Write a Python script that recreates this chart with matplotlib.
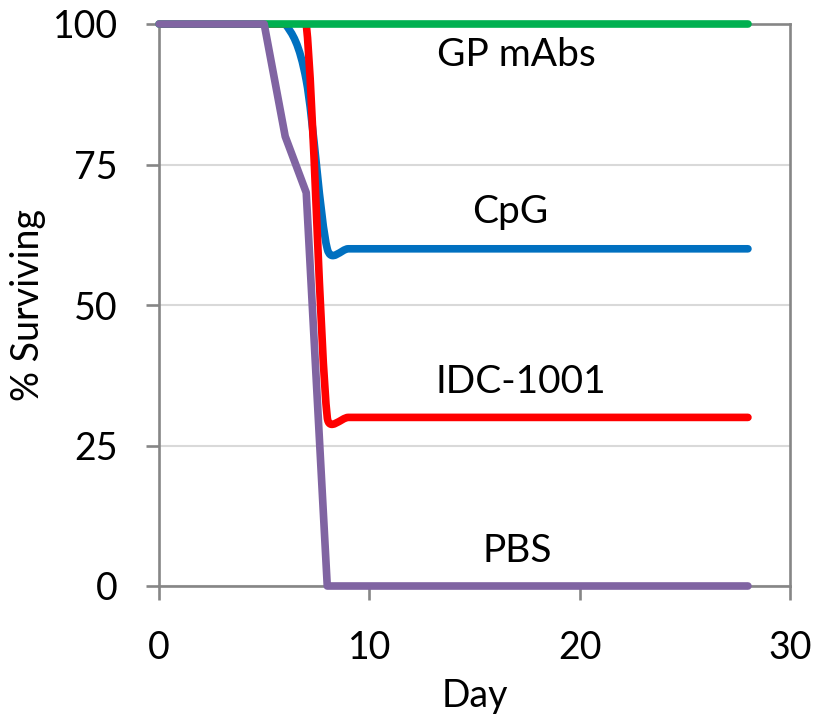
import numpy as np
import matplotlib
matplotlib.use("Agg")
import matplotlib.pyplot as plt
from matplotlib.path import Path
from matplotlib.patches import PathPatch

plt.rcParams['font.family'] = ['Lato', 'DejaVu Sans']

# survival data (day 0..28)
days = [0, 1, 2, 3, 4, 5, 6, 7, 8, 9, 10, 11, 12, 13, 14, 15, 16, 17, 18, 19,
        20, 21, 22, 23, 24, 25, 26, 27, 28]
gp_mabs = [100, 100, 100, 100, 100, 100, 100, 100, 100, 100, 100, 100, 100, 100, 100,
           100, 100, 100, 100, 100, 100, 100, 100, 100, 100, 100, 100, 100, 100]
cpg = [100, 100, 100, 100, 100, 100, 100, 90, 60, 60, 60, 60, 60, 60, 60,
       60, 60, 60, 60, 60, 60, 60, 60, 60, 60, 60, 60, 60, 60]
idc_1001 = [100, 100, 100, 100, 100, 100, 100, 100, 30, 30, 30, 30, 30, 30, 30,
            30, 30, 30, 30, 30, 30, 30, 30, 30, 30, 30, 30, 30, 30]
pbs = [100, 100, 100, 100, 100, 100, 80, 70, 0, 0, 0, 0, 0, 0, 0,
       0, 0, 0, 0, 0, 0, 0, 0, 0, 0, 0, 0, 0, 0]

x_ticks = [0, 10, 20, 30]
y_ticks = [0, 25, 50, 75, 100]

GRAY = '#868686'


def smooth_path(ax, xs, ys, c=0.75):
    """Excel-like smoothed line: cubic bezier through the points (display space)"""
    pts = ax.transData.transform(np.column_stack([xs, ys]))
    n = len(pts)
    verts = [pts[0]]
    codes = [Path.MOVETO]
    for i in range(n - 1):
        p0, p1 = pts[i], pts[i + 1]
        prev = pts[i - 1] if i > 0 else p0
        nxt = pts[i + 2] if i + 2 < n else p1
        seg = np.hypot(*(p1 - p0))
        arms = []
        for t in ((p1 - prev) / 6.0, (nxt - p0) / 6.0):
            L = np.hypot(*t)
            if L > c * seg and L > 0:
                t = t * (c * seg / L)
            arms.append(t)
        verts += [p0 + arms[0], p1 - arms[1], p1]
        codes += [Path.CURVE4, Path.CURVE4, Path.CURVE4]
    verts = ax.transData.inverted().transform(np.array(verts))
    return Path(verts, codes)


fig = plt.figure(figsize=(8.14, 7.2), dpi=100)
ax = fig.add_axes([159 / 814, 1 - 586 / 720, 631 / 814, 562 / 720])
ax.set_xlim(0, 30)
ax.set_ylim(0, 100)

lw = 5.5
ax.add_patch(PathPatch(smooth_path(ax, days, cpg), fill=False, edgecolor='#0070C0',
                       lw=lw, capstyle='round', joinstyle='round', zorder=3))
ax.add_patch(PathPatch(smooth_path(ax, days, idc_1001), fill=False, edgecolor='#FF0000',
                       lw=lw, capstyle='round', joinstyle='round', zorder=3.1))
ax.plot(days, gp_mabs, color='#00B050', lw=lw, solid_capstyle='round',
        solid_joinstyle='round', zorder=3.2, clip_on=False)
ax.plot(days, pbs, color='#8064A2', lw=lw, solid_capstyle='round',
        solid_joinstyle='round', zorder=3.3, clip_on=False)

# series labels
lab_kw = dict(fontsize=28, ha='center', va='center', zorder=5)
ax.text(17.0, 94.5, 'GP mAbs', **lab_kw)
ax.text(16.7, 66.5, 'CpG', **lab_kw)
ax.text(17.2, 36.3, 'IDC-1001', **lab_kw)
ax.text(17.05, 6.2, 'PBS', **lab_kw)

ax.set_xticks(x_ticks)
ax.set_yticks(y_ticks)
ax.tick_params(axis='x', length=10, width=1.9, color=GRAY, labelsize=27, pad=22)
ax.tick_params(axis='y', length=9.5, width=1.9, color=GRAY, labelsize=27, pad=20)
ax.yaxis.grid(True, color='#d9d9d9', lw=1.5)
ax.set_axisbelow(True)
for s in ax.spines.values():
    s.set_color(GRAY)
    s.set_linewidth(1.9)
    s.set_zorder(2.5)

ax.set_xlabel('Day', fontsize=27, labelpad=8)
ax.set_ylabel('% Surviving', fontsize=27, labelpad=5)

fig.savefig('out.png', dpi=100)
